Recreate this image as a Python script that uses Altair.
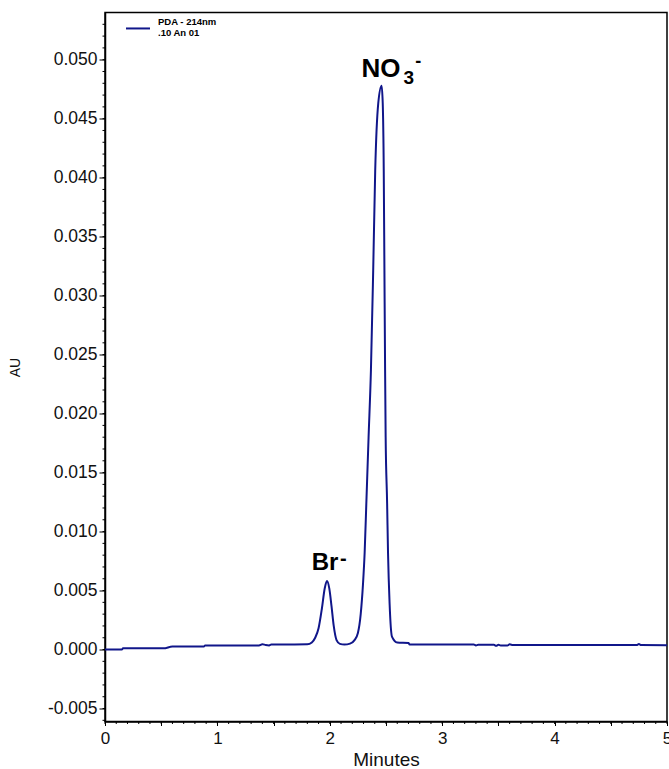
import altair as alt
import pandas as pd

# ---- data ----
times = [0.00, 0.15, 0.16, 0.52, 0.60, 0.88, 0.89, 1.37, 1.40, 1.43, 1.46, 1.48,
         1.80, 1.84, 1.87, 1.90, 1.93, 1.955, 1.975, 1.995, 2.015, 2.035, 2.06,
         2.09, 2.13, 2.18, 2.22, 2.25, 2.275, 2.295, 2.31, 2.325, 2.345, 2.366,
         2.386, 2.404, 2.431, 2.461, 2.471, 2.48, 2.486, 2.492, 2.497, 2.51,
         2.518, 2.532, 2.553, 2.60, 2.70, 2.71, 3.28, 3.30, 3.32, 3.46,
         3.48, 3.50, 3.52, 3.58, 3.60, 3.63, 4.73, 4.75, 4.77, 5.00]
absorb = [0.0000, 0.0000, 0.0001, 0.0001, 0.00025, 0.00026, 0.00034, 0.00035,
          0.00045, 0.00038, 0.00035, 0.00042, 0.00044, 0.0006, 0.0010, 0.0018,
          0.0035, 0.0052, 0.0058, 0.0052, 0.0037, 0.0020, 0.0008, 0.00048,
          0.00042, 0.00050, 0.0008, 0.0014, 0.0030, 0.0055, 0.0082, 0.0124,
          0.0180, 0.0237, 0.0321, 0.0406, 0.0463, 0.0478, 0.0463, 0.0406,
          0.0321, 0.0237, 0.0180, 0.0124, 0.0082, 0.0039, 0.0011, 0.0006,
          0.00055, 0.00043, 0.00043, 0.00035, 0.00040, 0.00040,
          0.00032, 0.00040, 0.00034, 0.00034, 0.00044, 0.00038, 0.00038,
          0.00046, 0.00038, 0.00036]
series_name = "PDA - 214nm"
series_sub = ".10 An 01"

y_major = [-0.005, 0.000, 0.005, 0.010, 0.015, 0.020, 0.025, 0.030, 0.035,
           0.040, 0.045, 0.050]
y_minor = [round(-0.006 + 0.001 * i, 3) for i in range(60)]
x_major = [0, 0.5, 1, 1.5, 2, 2.5, 3, 3.5, 4, 4.5, 5]
x_minor = [round(0.1 * i, 1) for i in range(51)]

# peak labels (anchor in data units)
no3_anchor_t, no3_anchor_v = [2.45], [0.04853]
br_anchor_t, br_anchor_v = [1.97], [0.006735]

NAVY = "#10168a"
FONT = "Liberation Sans"

df = pd.DataFrame({"t": times, "v": absorb, "series": series_name})
df_ym = pd.DataFrame({"v": y_minor})
df_xm = pd.DataFrame({"t": x_minor})
df_no3 = pd.DataFrame({"t": no3_anchor_t, "v": no3_anchor_v})
df_br = pd.DataFrame({"t": br_anchor_t, "v": br_anchor_v})

W, H = 562, 709
xscale = alt.Scale(domain=[0, 5], nice=False, zero=False)
yscale = alt.Scale(domain=[-0.0061, 0.054], nice=False, zero=False)

X = alt.X("t:Q", scale=xscale, title="Minutes",
          axis=alt.Axis(values=x_major, tickSize=4, labelPadding=5,
                        labelExpr="datum.value % 1 == 0 ? format(datum.value, 'd') : ''",
                        labelFontSize=17, titleFontSize=19, titleFontWeight="normal",
                        titlePadding=4, grid=False, labelFlush=False))
Y = alt.Y("v:Q", scale=yscale, title="AU",
          axis=alt.Axis(values=y_major, tickSize=6, labelPadding=2,
                        labelExpr="replace(format(datum.value, '.3f'), '\u2212', '-')",
                        labelFontSize=17.5, titleFontSize=14, titleFontWeight="normal",
                        titleX=-90, titleY=H / 2, titleAngle=270,
                        titleAlign="center", titleBaseline="middle",
                        grid=False, labelFlush=False))

line = alt.Chart(df).mark_line(strokeWidth=2, interpolate="monotone").encode(
    x=X, y=Y,
    color=alt.Color("series:N",
                    scale=alt.Scale(domain=[series_name], range=[NAVY]),
                    legend=alt.Legend(orient="none", legendX=20, legendY=-1, title=None,
                                      symbolType="M-1,0.33L1,0.33", symbolSize=576,
                                      symbolStrokeWidth=2, labelOffset=7,
                                      symbolFillColor="transparent",
                                      labelFontSize=9.5, labelFontWeight="bold",
                                      labelFont=FONT, labelBaseline="alphabetic",
                                      labelExpr=f"['{series_name}', '{series_sub}']",
                                      padding=0)),
)

ym = alt.Chart(df_ym).mark_rule(color="black", strokeWidth=1).encode(
    y=Y, x=alt.value(-2.5), x2=alt.value(0),
)
xm = alt.Chart(df_xm).mark_rule(color="black", strokeWidth=1).encode(
    x=X, y=alt.value(H), y2=alt.value(H + 2.5),
)

def label(df_, text, size, dx, dy):
    return alt.Chart(df_).mark_text(text=text, font=FONT, fontWeight="bold",
                                    fontSize=size, align="left", baseline="alphabetic",
                                    dx=dx, dy=dy, color="black").encode(x=X, y=Y)

no_txt = label(df_no3, "NO", 26, -19, 0)
no_sub = label(df_no3, "3", 19, 23.2, 6.5)
no_sup = label(df_no3, "-", 18, 34.8, -10)
br_txt = label(df_br, "Br", 24, -14.7, 0)
br_sup = label(df_br, "-", 20, 13.6, -5.5)

chart = alt.layer(line, ym, xm, no_txt, no_sub, no_sup, br_txt, br_sup).properties(
    width=W, height=H,
    autosize=alt.AutoSizeParams(type="none"),
    padding={"left": 105, "top": 12.5, "right": 2, "bottom": 47.5},
).configure_view(
    stroke="black", strokeWidth=1.5,
).configure_axis(
    domainColor="black", domainWidth=1.5, tickColor="black", tickWidth=1,
    labelColor="#111", titleColor="#111", labelFont=FONT, titleFont=FONT,
)

chart.save("out.html", embed_options={"renderer": "svg", "actions": False})
